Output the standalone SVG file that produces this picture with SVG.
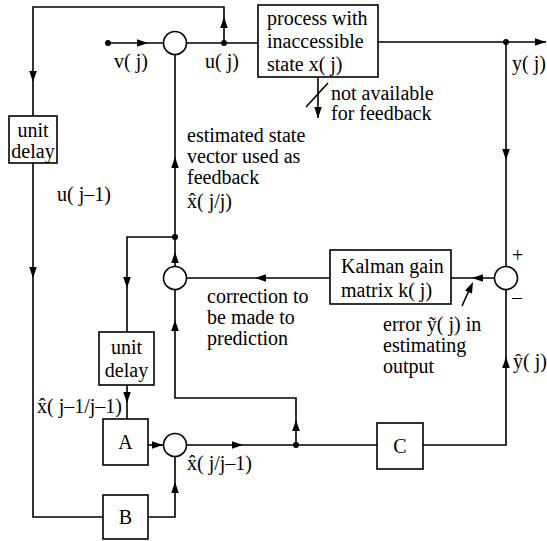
<svg xmlns="http://www.w3.org/2000/svg" xmlns:xlink="http://www.w3.org/1999/xlink" width="547" height="541" viewBox="0 0 547 541">
<style>
.ln{fill:none;stroke:#000;stroke-width:1.6}
.bx{fill:#fff;stroke:#000;stroke-width:1.6}
text{font-family:'Liberation Serif','Times New Roman',Times,'DejaVu Serif',serif;font-size:20px;fill:#000}
.c{text-anchor:middle}
</style>
<defs>
<path id="ah" d="M0,0 L-11,-3.8 L-11,3.8 Z" fill="#000"/>
</defs>
<rect width="547" height="541" fill="#fff"/>
<g id="connectors">
<path class="ln" d="M108,43 H163.5"/>
<path class="ln" d="M186.5,43 H258"/>
<path class="ln" d="M224,43 V7 H33 V116"/>
<path class="ln" d="M33,163 V517 H103"/>
<path class="ln" d="M378,42 H546"/>
<path class="ln" d="M506,42 V266.5"/>
<path class="ln" d="M318,77 V118"/>
<path class="ln" d="M306,107 L328,83"/>
<path class="ln" d="M175,54.5 V266.5"/>
<path class="ln" d="M175,237 H127 V332"/>
<path class="ln" d="M330,278 H186.5"/>
<path class="ln" d="M494.5,278 H451"/>
<path class="ln" d="M462,306 L471,286"/>
<path class="ln" d="M175,289.5 V398 H296 V445"/>
<path class="ln" d="M127,385 V419"/>
<path class="ln" d="M148,445 H163.5"/>
<path class="ln" d="M186.5,445 H377"/>
<path class="ln" d="M423,445 H506 V289.5"/>
<path class="ln" d="M148,517 H175 V456.5"/>
<use xlink:href="#ah" transform="translate(148,43)"/>
<use xlink:href="#ah" transform="translate(224,17) rotate(-90)"/>
<use xlink:href="#ah" transform="translate(33,82) rotate(90)"/>
<use xlink:href="#ah" transform="translate(33,278) rotate(90)"/>
<use xlink:href="#ah" transform="translate(175,157) rotate(-90)"/>
<use xlink:href="#ah" transform="translate(546,42)"/>
<use xlink:href="#ah" transform="translate(506,160) rotate(90)"/>
<use xlink:href="#ah" transform="translate(318,118) rotate(90)"/>
<use xlink:href="#ah" transform="translate(175,252) rotate(-90)"/>
<use xlink:href="#ah" transform="translate(127,288) rotate(90)"/>
<use xlink:href="#ah" transform="translate(255,278) rotate(180)"/>
<use xlink:href="#ah" transform="translate(175,320) rotate(-90)"/>
<use xlink:href="#ah" transform="translate(472,278) rotate(180)"/>
<use xlink:href="#ah" transform="translate(473,282) rotate(-66)"/>
<use xlink:href="#ah" transform="translate(506,357) rotate(-90)"/>
<use xlink:href="#ah" transform="translate(127,403) rotate(90)"/>
<use xlink:href="#ah" transform="translate(163,445)"/>
<use xlink:href="#ah" transform="translate(243,445)"/>
<use xlink:href="#ah" transform="translate(175,482) rotate(-90)"/>
<use xlink:href="#ah" transform="translate(296,420) rotate(-90)"/>
<circle cx="108" cy="43" r="3"/>
<circle cx="224" cy="43" r="3"/>
<circle cx="506" cy="42" r="3"/>
<circle cx="175" cy="237" r="3"/>
<circle cx="296" cy="445" r="3"/>
</g>
<g id="sum1"><circle class="bx" cx="175" cy="43" r="11.5"/></g>
<g id="sum2"><circle class="bx" cx="175" cy="278" r="11.5"/></g>
<g id="sum3"><circle class="bx" cx="506" cy="278" r="11.5"/>
<text x="512" y="262">+</text><text x="512" y="304">–</text></g>
<g id="sum4"><circle class="bx" cx="175" cy="445" r="11.5"/></g>
<g id="process"><rect class="bx" x="258" y="5" width="120" height="72"/>
<text x="267" y="25">process with</text>
<text x="267" y="48">inaccessible</text>
<text x="267" y="71">state x( j)</text></g>
<g id="delay1"><rect class="bx" x="9" y="116" width="48" height="47"/>
<text class="c" x="33" y="137">unit</text>
<text class="c" x="33" y="158">delay</text></g>
<g id="kalman"><rect class="bx" x="330" y="250" width="121" height="54"/>
<text x="341" y="273">Kalman gain</text>
<text x="341" y="297">matrix k( j)</text></g>
<g id="delay2"><rect class="bx" x="99" y="332" width="55" height="53"/>
<text class="c" x="126.5" y="354">unit</text>
<text class="c" x="126.5" y="377">delay</text></g>
<g id="A"><rect class="bx" x="103" y="419" width="45" height="46"/>
<text class="c" x="125.5" y="449">A</text></g>
<g id="B"><rect class="bx" x="103" y="495" width="45" height="44"/>
<text class="c" x="125.5" y="524">B</text></g>
<g id="C"><rect class="bx" x="377" y="423" width="46" height="46"/>
<text class="c" x="400" y="453">C</text></g>
<g id="labels">
<text x="114" y="68">v( j)</text>
<text x="205" y="68">u( j)</text>
<text x="512" y="70">y( j)</text>
<text x="331" y="100">not available</text>
<text x="331" y="120">for feedback</text>
<text x="187" y="142">estimated state</text>
<text x="187" y="163">vector used as</text>
<text x="187" y="184">feedback</text>
<text x="187" y="208">x̂( j/j)</text>
<text x="57" y="201">u( j–1)</text>
<text x="207" y="303">correction to</text>
<text x="207" y="324">be made to</text>
<text x="207" y="345">prediction</text>
<text x="383" y="331">error ỹ( j) in</text>
<text x="383" y="352">estimating</text>
<text x="383" y="373">output</text>
<text x="513" y="368">ŷ( j)</text>
<text x="37" y="413">x̂( j–1/j–1)</text>
<text x="187" y="470">x̂( j/j–1)</text>
</g>
</svg>
